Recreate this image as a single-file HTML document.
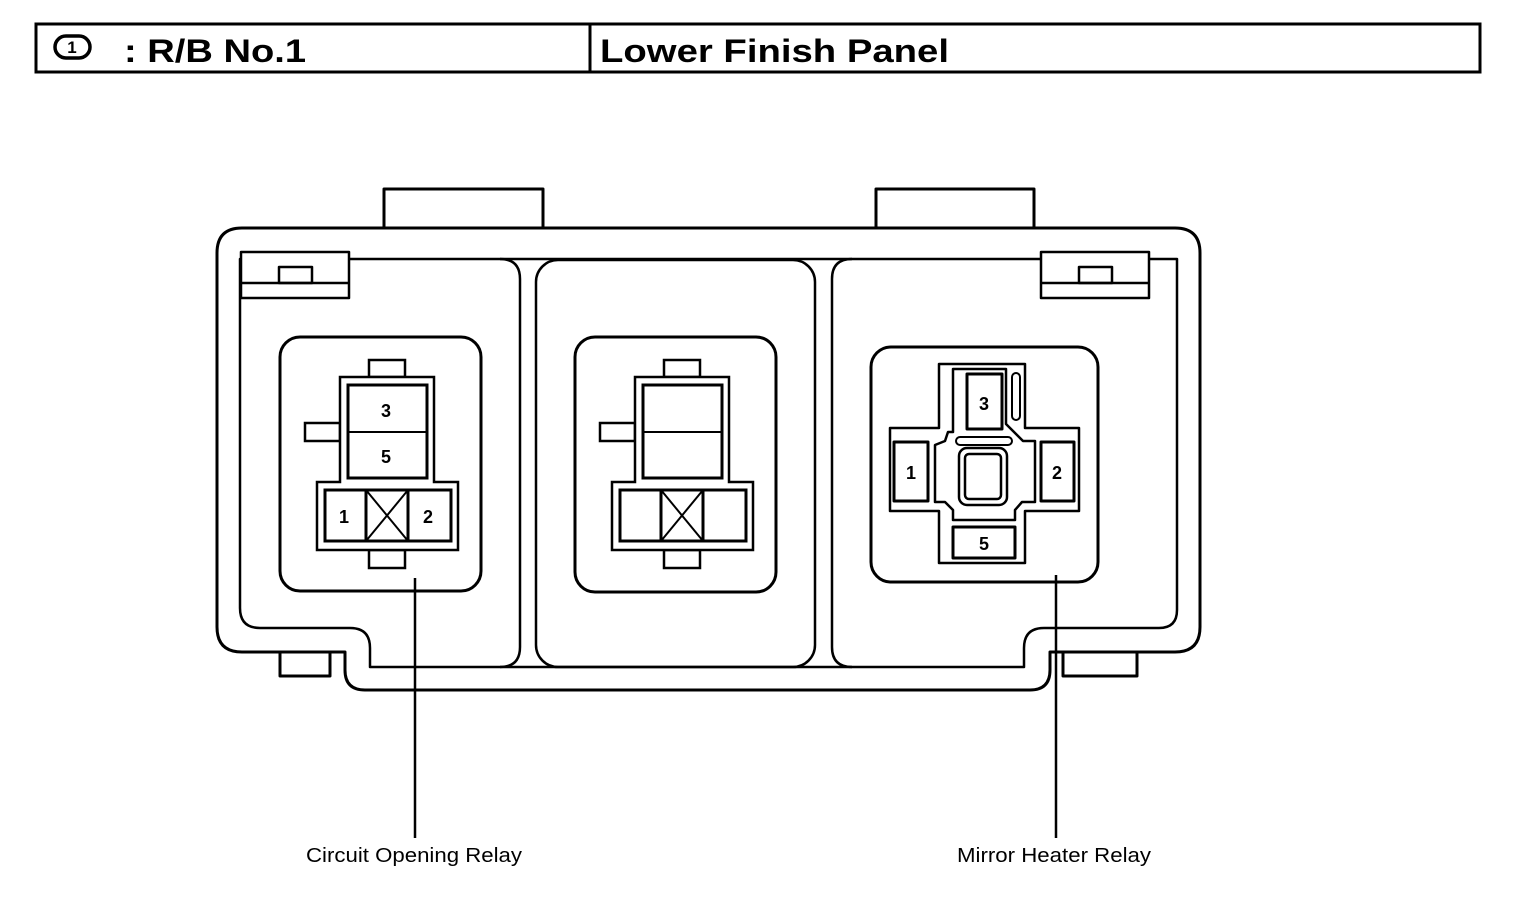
<!DOCTYPE html>
<html><head><style>
html,body{margin:0;padding:0;background:#fff;}
svg{display:block;}
text{font-family:"Liberation Sans",sans-serif;fill:#000;}
</style></head><body>
<svg width="1520" height="912" viewBox="0 0 1520 912" xmlns="http://www.w3.org/2000/svg">
<g fill="none" stroke="#000" stroke-width="3">
<rect x="36" y="24" width="1444" height="48"/>
<line x1="590" y1="24" x2="590" y2="72"/>
</g>
<rect x="55" y="36" width="35" height="22" rx="11" fill="none" stroke="#000" stroke-width="3.5"/>
<text x="72" y="53" font-size="17" font-weight="bold" text-anchor="middle">1</text>
<text x="124" y="62" font-size="32" font-weight="bold" textLength="182" lengthAdjust="spacingAndGlyphs">: R/B No.1</text>
<text x="600" y="62" font-size="32" font-weight="bold" textLength="349" lengthAdjust="spacingAndGlyphs">Lower Finish Panel</text>

<g fill="none" stroke="#000" stroke-width="3" stroke-linejoin="round">
<path d="M384 228 V189 H543 V228"/>
<path d="M876 228 V189 H1034 V228"/>
<rect x="280" y="652" width="50" height="24"/>
<rect x="1063" y="652" width="74" height="24"/>
<path d="M242 228 H1175 Q1200 228 1200 253 V627 Q1200 652 1175 652 H1050 V670 Q1050 690 1030 690 H365 Q345 690 345 670 V652 H242 Q217 652 217 627 V253 Q217 228 242 228 Z" fill="#fff"/>
<path d="M240 259 H1177 V610 Q1177 628 1159 628 H1044 Q1024 628 1024 648 V667 H370 V648 Q370 628 350 628 H260 Q240 628 240 608 Z" stroke-width="2.5"/>
<path d="M500 259 Q520 259 520 279 V647 Q520 667 500 667" stroke-width="2.5"/>
<rect x="536" y="260" width="279" height="407" rx="22" stroke-width="2.5"/>
<path d="M852 259 Q832 259 832 279 V647 Q832 667 852 667" stroke-width="2.5"/>
<rect x="241" y="252" width="108" height="46" fill="#fff" stroke-width="2.5"/>
<line x1="241" y1="283" x2="349" y2="283" stroke-width="2.5"/>
<rect x="279" y="267" width="33" height="16" stroke-width="2.5"/>
<rect x="1041" y="252" width="108" height="46" fill="#fff" stroke-width="2.5"/>
<line x1="1041" y1="283" x2="1149" y2="283" stroke-width="2.5"/>
<rect x="1079" y="267" width="33" height="16" stroke-width="2.5"/>
</g>

<g fill="none" stroke="#000" stroke-width="3">
<rect x="280" y="337" width="201" height="254" rx="20"/>
<g id="rel">
<rect x="369" y="360" width="36" height="17" stroke-width="2.5"/>
<rect x="305" y="423" width="35" height="18" stroke-width="2.5"/>
<rect x="369" y="550" width="36" height="18" stroke-width="2.5"/>
<path d="M340 482 V377 H434 V482 H458 V550 H317 V482 Z" fill="#fff" stroke-width="2.5"/>
<rect x="348" y="385" width="79" height="93"/>
<line x1="348" y1="432" x2="427" y2="432" stroke-width="2"/>
<rect x="325" y="490" width="126" height="51"/>
<line x1="366" y1="490" x2="366" y2="541"/>
<line x1="408" y1="490" x2="408" y2="541"/>
<line x1="366" y1="490" x2="408" y2="541" stroke-width="2"/>
<line x1="408" y1="490" x2="366" y2="541" stroke-width="2"/>
</g>
</g>
<text x="386" y="417" font-size="18" font-weight="bold" text-anchor="middle">3</text>
<text x="386" y="463" font-size="18" font-weight="bold" text-anchor="middle">5</text>
<text x="344" y="523" font-size="18" font-weight="bold" text-anchor="middle">1</text>
<text x="428" y="523" font-size="18" font-weight="bold" text-anchor="middle">2</text>

<g fill="none" stroke="#000" stroke-width="3">
<rect x="575" y="337" width="201" height="255" rx="20"/>
<use href="#rel" transform="translate(295,0)"/>
</g>

<g fill="none" stroke="#000" stroke-width="3" stroke-linejoin="round">
<rect x="871" y="347" width="227" height="235" rx="20"/>
<path d="M939 364 H1025 V428 H1079 V511 H1025 V563 H939 V511 H890 V428 H939 Z" stroke-width="2.5"/>
<path d="M953 369 H1006 V424 L1023 441 H1035 V502 H1022 L1015 510 V520 H953 V510 L945 502 H935 V445 L945 441 L948 432 H953 Z" stroke-width="2.5"/>
<rect x="894" y="442" width="34" height="59"/>
<rect x="1041" y="442" width="33" height="59"/>
<rect x="967" y="374" width="35" height="55"/>
<rect x="953" y="527" width="62" height="31"/>
<rect x="1012" y="373" width="8" height="47" rx="4" stroke-width="2"/>
<rect x="956" y="437" width="56" height="8" rx="4" stroke-width="2"/>
<rect x="959" y="448" width="48" height="57" rx="8" stroke-width="2.5"/>
<rect x="965" y="454" width="36" height="45" rx="4" stroke-width="2.5"/>
</g>
<text x="984" y="410" font-size="18" font-weight="bold" text-anchor="middle">3</text>
<text x="911" y="479" font-size="18" font-weight="bold" text-anchor="middle">1</text>
<text x="1057" y="479" font-size="18" font-weight="bold" text-anchor="middle">2</text>
<text x="984" y="550" font-size="18" font-weight="bold" text-anchor="middle">5</text>

<g stroke="#000" stroke-width="2.5">
<line x1="415" y1="578" x2="415" y2="838"/>
<line x1="1056" y1="575" x2="1056" y2="838"/>
</g>
<text x="306" y="862" font-size="20" textLength="216" lengthAdjust="spacingAndGlyphs">Circuit Opening Relay</text>
<text x="957" y="862" font-size="20" textLength="194" lengthAdjust="spacingAndGlyphs">Mirror Heater Relay</text>
</svg>
</body></html>
